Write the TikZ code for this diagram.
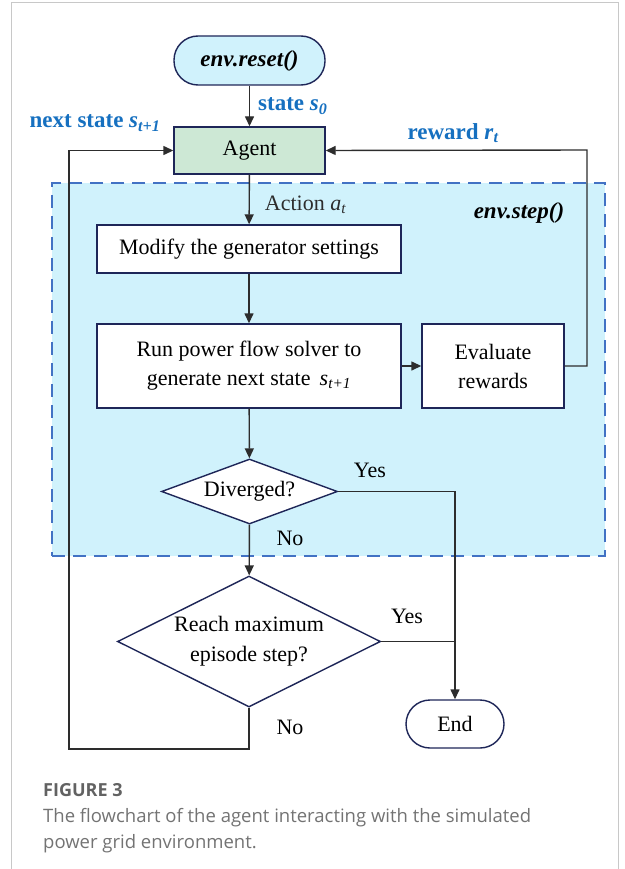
\documentclass[tikz,border=0pt]{standalone}
\usepackage{fontspec}
\setmainfont{Liberation Serif}
\newfontfamily\capfont{Open Sans}
\usepackage{tikz}
\usetikzlibrary{shapes.geometric, arrows.meta, positioning}
\definecolor{navy}{RGB}{30, 38, 88}
\definecolor{skyfill}{RGB}{208, 242, 252}
\definecolor{agentfill}{RGB}{205, 232, 213}
\definecolor{stepblue}{RGB}{66, 114, 196}
\definecolor{labelblue}{RGB}{22, 112, 192}
\definecolor{wire}{RGB}{45, 45, 45}
\definecolor{framegray}{RGB}{200, 200, 200}
\definecolor{capgray}{RGB}{115, 115, 115}

\begin{document}
\begin{tikzpicture}[x=1pt, y=-1pt,
  term/.style={draw=navy, line width=1.4pt, fill=skyfill, rounded corners=24pt,
    minimum width=151pt, minimum height=49pt, inner sep=0pt,
    font=\fontsize{23}{26}\selectfont\bfseries\itshape},
  proc/.style={draw=navy, line width=1.4pt, fill=white, minimum width=304pt,
    minimum height=48pt, inner sep=0pt, align=center,
    font=\fontsize{22}{29}\selectfont},
  decision/.style={diamond, draw=navy, line width=1.4pt, fill=white,
    inner sep=0pt, align=center, font=\fontsize{22}{30}\selectfont},
  stepzone/.style={draw=stepblue, fill=skyfill, line width=2pt,
    dash pattern=on 13pt off 8pt, minimum width=553pt, minimum height=373pt},
  lbl/.style={font=\fontsize{22}{26}\selectfont, inner sep=0pt},
  blbl/.style={font=\fontsize{23}{26}\selectfont\bfseries, text=labelblue, inner sep=0pt},
  arrow/.style={-{Triangle[length=10pt, width=9pt]}, line width=1.4pt, wire}
]
\useasboundingbox (0,0) rectangle (624,869);
\draw[framegray, line width=1pt] (11,869) -- (11,3) -- (618,3) -- (618,869);

% env.step() region
\node[stepzone] (zone) at (328.5,369.5) {};
\node[lbl, font=\fontsize{23}{26}\selectfont\bfseries\itshape] (steplbl) at (519,213) {env.step()};

\node[term] (reset) at (249.5,60.5) {env.reset()};
\node[proc, fill=agentfill, minimum width=151pt, minimum height=47pt] (agent) at (249.5,150.5) {Agent};
\node[proc] (modify) at (249,249) {Modify the generator settings};
\node[proc, minimum height=84pt] (solver) at (249,366) {Run power flow solver to\\generate next state \,\textit{s}\textsubscript{\itshape t+1}};
\node[proc, minimum width=142pt, minimum height=84pt] (reward) at (493,366) {Evaluate\\rewards};
\node[decision, minimum width=176pt, minimum height=65pt, aspect=2.7] (diverged) at (249.5,491.5) {Diverged?};
\node[decision, minimum width=263pt, minimum height=131pt, aspect=2] (maxstep) at (249,641.5) {Reach maximum\\episode step?};
\node[term, fill=white, minimum width=98pt, minimum height=48pt,
  font=\fontsize{22}{26}\selectfont] (finish) at (455,724) {End};

\coordinate (loopbl) at (69,749);
\coordinate (fbtr) at (587,150);

\draw[arrow] (reset) -- node[blbl, anchor=west, xshift=8pt]
  {state \textit{s}\textsubscript{\itshape 0}} (agent);
\draw[arrow] (agent) -- node[lbl, pos=0.6, anchor=west, xshift=15pt]
  {Action \textit{a}\textsubscript{\itshape t}} (modify);
\draw[arrow] (modify) -- (solver);
\draw[arrow] (solver) -- (reward);
\draw[arrow] (solver) -- (diverged);
\draw[arrow] (diverged) -- (maxstep);
\draw[arrow] (reward.east) -| (fbtr) -- (agent.east);
\draw[arrow] (diverged.east) -| (finish.north);
\draw[line width=1.4pt, wire] (maxstep.east) -- (maxstep.east -| finish.north);
\draw[arrow] (maxstep.south) |- (loopbl) |- (agent.west);

% branch labels
\node[blbl] (nextlbl) at (95,123) {next state \textit{s}\textsubscript{\itshape t+1}};
\node[blbl] (rewlbl) at (453,133) {reward \textit{r}\textsubscript{\itshape t}};
\node[lbl] (yes1) at (370,470) {Yes};
\node[lbl] (no1) at (290,538) {No};
\node[lbl] (yes2) at (407,616) {Yes};
\node[lbl] (no2) at (290,727) {No};

% caption
\node[anchor=west, inner sep=0pt, text=capgray!85!black,
  font=\capfont\fontsize{18}{20}\selectfont\bfseries] (capttl) at (43,790) {FIGURE 3};
\node[anchor=west, inner sep=0pt, align=left, text=capgray,
  font=\capfont\fontsize{18.5}{26}\selectfont] (captxt) at (43,831)
  {The flowchart of the agent interacting with the simulated\\power grid environment.};
\end{tikzpicture}
\end{document}
